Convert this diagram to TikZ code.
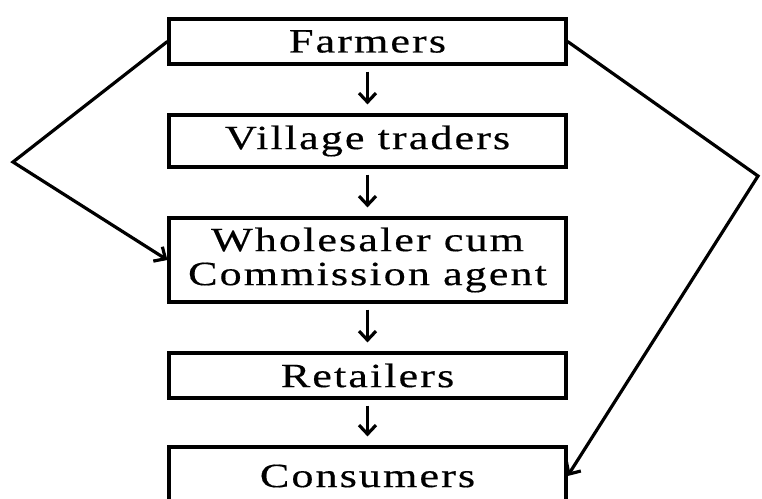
\documentclass[tikz,border=0pt]{standalone}
\usepackage{fontspec}
\setmainfont{Liberation Serif}[FakeStretch=1.3,LetterSpace=6,FakeBold=0.4]
\usetikzlibrary{arrows.meta}

\begin{document}
\begin{tikzpicture}[
  x=1pt, y=-1pt,
  >={Straight Barb[length=9pt,width=17pt]},
  box/.style={draw, line width=3.2pt, minimum width=397pt, minimum height=#1, inner sep=0pt, align=center, font=\fontsize{34}{34}\selectfont},
  arr/.style={->, line width=3.2pt},
  down/.style={->, line width=3.2pt, shorten <=6pt, shorten >=9pt},
]

\clip (0,0) rectangle (762,498);

\node[box=45pt] (farmers) at (367.5,41.5) {Farmers};
\node[box=52pt] (village) at (367.5,141) {Village traders};
\node[box=84pt] (whole) at (367.5,260) {Wholesaler cum\\Commission agent};
\node[box=45pt] (retail) at (367.5,375.5) {Retailers};
\node[box=58pt] (consumer) at (367.5,476) {Consumers};

\coordinate (lbend) at (13,162);
\coordinate (rbend) at (758,176);

\draw[down] (farmers) -- (village);
\draw[down] (village) -- (whole);
\draw[down] (whole) -- (retail);
\draw[down] (retail) -- (consumer);

\draw[arr] (farmers.west) -- (lbend) -- (whole.west);
\draw[arr] (farmers.east) -- (rbend) -- (consumer.east);

\end{tikzpicture}
\end{document}
